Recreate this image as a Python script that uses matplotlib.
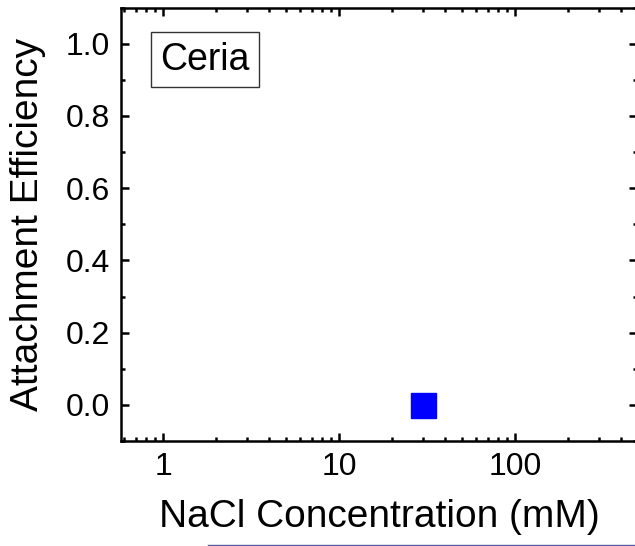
import numpy as np
import matplotlib
matplotlib.use("Agg")
import matplotlib.pyplot as plt
from matplotlib.ticker import LogLocator, FixedLocator, NullFormatter, MultipleLocator
from matplotlib.lines import Line2D

plt.rcParams["font.family"] = ["Liberation Sans", "DejaVu Sans"]

# данные
nacl_mM = [30]
attachment_eff = [0.0]
x_ticks = [1, 10, 100]
x_tick_labels = ["1", "10", "100"]
y_ticks = [0.0, 0.2, 0.4, 0.6, 0.8, 1.0]
y_tick_labels = ["0.0", "0.2", "0.4", "0.6", "0.8", "1.0"]

W, H = 635, 546
fig = plt.figure(figsize=(W / 100, H / 100), dpi=100)
ax = fig.add_axes([121 / W, (H - 441) / H, (637 - 121) / W, (441 - 7.5) / H])

ax.plot(nacl_mM, attachment_eff, linestyle="none", marker="s", markersize=18,
        color="#0000ff", markeredgecolor="#0000ff")

ax.set_xscale("log")
ax.set_xlim(0.577, 493)
ax.set_ylim(-0.1, 1.1)

ax.xaxis.set_major_locator(FixedLocator(x_ticks))
ax.set_xticklabels(x_tick_labels)
ax.xaxis.set_minor_locator(LogLocator(base=10, subs=np.arange(2, 10)))
ax.xaxis.set_minor_formatter(NullFormatter())
ax.set_yticks(y_ticks)
ax.set_yticklabels(y_tick_labels)
ax.yaxis.set_minor_locator(MultipleLocator(0.1))

ax.tick_params(which="both", direction="in", top=True, right=True, labelsize=23,
               width=1.8, pad=8)
ax.tick_params(which="major", length=6)
ax.tick_params(which="minor", length=3)
for s in ax.spines.values():
    s.set_linewidth(1.8)

ax.set_xlabel("NaCl Concentration (mM)", fontsize=28, labelpad=12)
ax.set_ylabel("Attachment Efficiency", fontsize=28, labelpad=14)

ax.text(205 / W, 1 - 59.5 / H, "Ceria", transform=fig.transFigure, fontsize=27,
        ha="center", va="center",
        bbox=dict(boxstyle="square,pad=0.25", facecolor="white", edgecolor="#333333", linewidth=1))

# тонкая линия внизу (обрезка оригинала)
fig.add_artist(Line2D([208 / W, 1.0], [0.8 / H, 0.8 / H], transform=fig.transFigure,
                      color="#5a5aa0", linewidth=1))

fig.savefig("out.png", dpi=100)
